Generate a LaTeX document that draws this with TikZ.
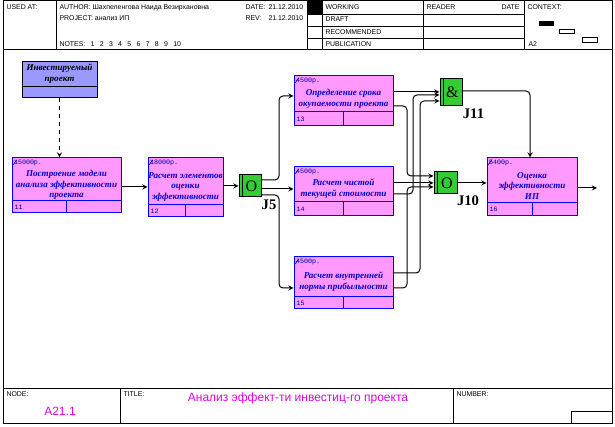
\documentclass[tikz,border=0pt]{standalone}
\usepackage{fontspec}
\setmainfont{Liberation Serif}
\setsansfont{Liberation Sans}
\setmonofont{Liberation Mono}
\usetikzlibrary{fit}
\definecolor{actpink}{HTML}{FF99FF}
\definecolor{invblue}{HTML}{9999FF}
\definecolor{jgreen}{HTML}{33CC33}
\definecolor{acttext}{HTML}{0000CC}
\definecolor{titlemag}{HTML}{E000E0}
\begin{document}
\begin{tikzpicture}[x=0.75pt,y=-0.75pt,>=stealth,line width=0.75pt,
  hd/.style={font=\fontsize{5.2}{6}\sffamily\selectfont,anchor=west,inner sep=0pt},
  act/.style={draw=blue,fill=actpink,inner sep=0pt,
    path picture={\draw[blue,line width=0.5pt] ([shift={(1pt,-5pt)}]path picture bounding box.north west) -- ++(2.5pt,3.5pt);}},
  inv/.style={draw=black,fill=invblue,inner sep=0pt},
  atext/.style={font=\fontsize{6.8}{8}\selectfont\bfseries\itshape,text=acttext,align=center,inner sep=0pt},
  cost/.style={font=\fontsize{5}{6}\ttfamily\selectfont,text=acttext!70!black,anchor=north west,inner sep=1.5pt},
  num/.style={font=\fontsize{5}{6}\ttfamily\selectfont,text=acttext!70!black,anchor=west,inner sep=0pt},
  jn/.style={draw=black,fill=jgreen,inner sep=0pt,
    path picture={\draw ([xshift=2.5pt]path picture bounding box.north west) -- ([xshift=2.5pt]path picture bounding box.south west);}},
  jsym/.style={font=\fontsize{12}{12}\selectfont,inner sep=0pt,xshift=1pt},
  jlab/.style={font=\fontsize{11}{11}\selectfont\bfseries,inner sep=0pt},
  rc/.style={rounded corners=3pt}]
  \useasboundingbox (0,0) rectangle (615,427);

  % рамка и шапка
  \draw (3,1) rectangle (612,424);
  \draw (3,50) -- (612,50);
  \draw (56,1) -- (56,50) (307,1) -- (307,50) (322,1) -- (322,50) (423,1) -- (423,50) (524,1) -- (524,50);
  \draw (307,15) -- (524,15) (307,27) -- (524,27) (307,39) -- (524,39);
  \fill (307,1) rectangle (322,15);
  \fill (539,21) rectangle (554,26);
  \draw[line width=0.5pt] (559,29) rectangle (574,33) (582,37) rectangle (597,42);
  \node[hd] (used) at (6,7.5) {USED AT:};
  \node[hd] (author) at (59,7.5) {AUTHOR: Шахпеленгова Наида Везирхановна};
  \node[hd] (project) at (59,18.5) {PROJECT: анализ ИП};
  \node[hd] (notes) at (59,44) {NOTES:\hspace{4pt}1\hspace{4pt}2\hspace{4pt}3\hspace{4pt}4\hspace{4pt}5\hspace{4pt}6\hspace{4pt}7\hspace{4pt}8\hspace{4pt}9\hspace{4pt}10};
  \node[hd] (date) at (245,7.5) {DATE:};
  \node[hd] (dateval) at (268,7.5) {21.12.2010};
  \node[hd] (rev) at (245,18.5) {REV:};
  \node[hd] (revval) at (268,18.5) {21.12.2010};
  \node[hd] (working) at (325,7.5) {WORKING};
  \node[hd] (draft) at (325,19.5) {DRAFT};
  \node[hd] (recom) at (325,32) {RECOMMENDED};
  \node[hd] (publ) at (325,44) {PUBLICATION};
  \node[hd] (reader) at (426,7.5) {READER};
  \node[hd] (rdate) at (501,7.5) {DATE};
  \node[hd] (context) at (527,7.5) {CONTEXT:};
  \node[hd] (ctxnode) at (528,44) {A2};

  % подвал
  \draw (3,389) -- (612,389) (120,389) -- (120,424) (453,389) -- (453,424);
  \draw (571,412) rectangle (612,424);
  \node[hd] (fnode) at (6,394) {NODE:};
  \node[font=\fontsize{9}{9}\sffamily\selectfont,text=titlemag] (fnum) at (60,411) {A21.1};
  \node[hd] (ftitle) at (123,394) {TITLE:};
  \node[font=\fontsize{9}{9}\sffamily\selectfont,text=titlemag] (ftext) at (298,398) {Анализ эффект-ти инвестиц-го проекта};
  \node[hd] (fnumber) at (456,394) {NUMBER:};

  % объект
  \node[inv,fit={(22,62) (97,98)}] (inv) {};
  \draw (inv.west |- 0,87) -- (inv.east |- 0,87);
  \node[atext,text=black] (tinv) at (59.5,74) {Инвестируемый\\проект};

  % работы
  \node[act,fit={(12,158) (121,213)}] (b11) {};
  \draw[blue] (b11.west |- 0,201) -- (b11.east |- 0,201) (b11.south |- 0,201) -- (b11.south);
  \node[cost] (c11) at (b11.north west) {15000р.};
  \node[num,xshift=2pt] (n11) at (b11.west |- 0,207) {11};
  \node[atext] (t11) at (b11.center |- 0,185) {Построение модели\\анализа эффективности\\проекта};

  \node[act,fit={(148,158) (223,217)}] (b12) {};
  \draw[blue] (b12.west |- 0,205) -- (b12.east |- 0,205) (b12.south |- 0,205) -- (b12.south);
  \node[cost] (c12) at (b12.north west) {18000р.};
  \node[num,xshift=2pt] (n12) at (b12.west |- 0,211) {12};
  \node[atext] (t12) at (b12.center |- 0,187) {Расчет элементов\\оценки\\эффективности};

  \node[act,fit={(294,76) (393,126)}] (b13) {};
  \draw[blue] (b13.west |- 0,112) -- (b13.east |- 0,112) (b13.south |- 0,112) -- (b13.south);
  \node[cost] (c13) at (b13.north west) {4500р.};
  \node[num,xshift=2pt] (n13) at (b13.west |- 0,119) {13};
  \node[atext] (t13) at (b13.center |- 0,99) {Определение срока\\окупаемости проекта};

  \node[act,fit={(294,167) (393,216)}] (b14) {};
  \draw[blue] (b14.west |- 0,202) -- (b14.east |- 0,202) (b14.south |- 0,202) -- (b14.south);
  \node[cost] (c14) at (b14.north west) {4500р.};
  \node[num,xshift=2pt] (n14) at (b14.west |- 0,209) {14};
  \node[atext] (t14) at (b14.center |- 0,189) {Расчет чистой\\текущей стоимости};

  \node[act,fit={(294,257) (393,309)}] (b15) {};
  \draw[blue] (b15.west |- 0,297) -- (b15.east |- 0,297) (b15.south |- 0,297) -- (b15.south);
  \node[cost] (c15) at (b15.north west) {4500р.};
  \node[num,xshift=2pt] (n15) at (b15.west |- 0,303) {15};
  \node[atext] (t15) at (b15.center |- 0,282) {Расчет внутренней\\нормы прибыльности};

  \node[act,fit={(487,158) (577,216)}] (b16) {};
  \draw[blue] (b16.west |- 0,203) -- (b16.east |- 0,203) (b16.south |- 0,203) -- (b16.south);
  \node[cost] (c16) at (b16.north west) {5400р.};
  \node[num,xshift=2pt] (n16) at (b16.west |- 0,209.5) {16};
  \node[atext] (t16) at (b16.center |- 0,186) {Оценка\\эффективности\\ИП};

  % перекрестки
  \node[jn,fit={(239,175) (261,197)}] (j5) {};
  \node[jsym] (s5) at (j5.center) {O};
  \node[jlab] (lj5) at (269,205) {J5};
  \node[jn,fit={(440,79) (462,106)}] (j11) {};
  \node[jsym] (s11) at (j11.center) {\&};
  \node[jlab] (lj11) at (473.5,114) {J11};
  \node[jn,fit={(434,172) (457,194)}] (j10) {};
  \node[jsym] (s10) at (j10.center) {O};
  \node[jlab] (lj10) at (468,201) {J10};
  \coordinate (out16) at (597,188);

  % связи
  \draw[->,dashed] (inv.south) -- (inv.south |- b11.north);
  \draw[->] (b11.east |- 0,187) -- (b12.west |- 0,187);
  \draw[->] (b12.east |- 0,186) -- (j5.west |- 0,186);
  \draw[->,rc] (j5.east |- 0,180) -| (279,96) -- (b13.west |- 0,96);
  \draw[->] (j5.east |- 0,189) -- (b14.west |- 0,189);
  \draw[->,rc] (j5.east |- 0,195) -| (279,288) -- (b15.west |- 0,288);
  \draw[->] (b13.east |- 0,92) -- (j11.west |- 0,92);
  \draw[->,rc] (b13.east |- 0,106) -| (407,176) -- (j10.west |- 0,176);
  \draw[->] (b14.east |- 0,183) -- (j10.west |- 0,183);
  \draw[->,rc] (b14.east |- 0,194) -| (413,95) -- (j11.west |- 0,95);
  \draw[->,rc] (b15.east |- 0,273) -| (420,101) -- (j11.west |- 0,101);
  \draw[->,rc] (b15.east |- 0,288) -| (407,187) -- (j10.west |- 0,187);
  \draw[->,rc] (j11.east |- 0,91) -| (b16.north -| 530,0);
  \draw[->] (j10.east |- 0,183) -- (b16.west |- 0,183);
  \draw[->] (b16.east |- 0,188) -- (out16);
\end{tikzpicture}
\end{document}
